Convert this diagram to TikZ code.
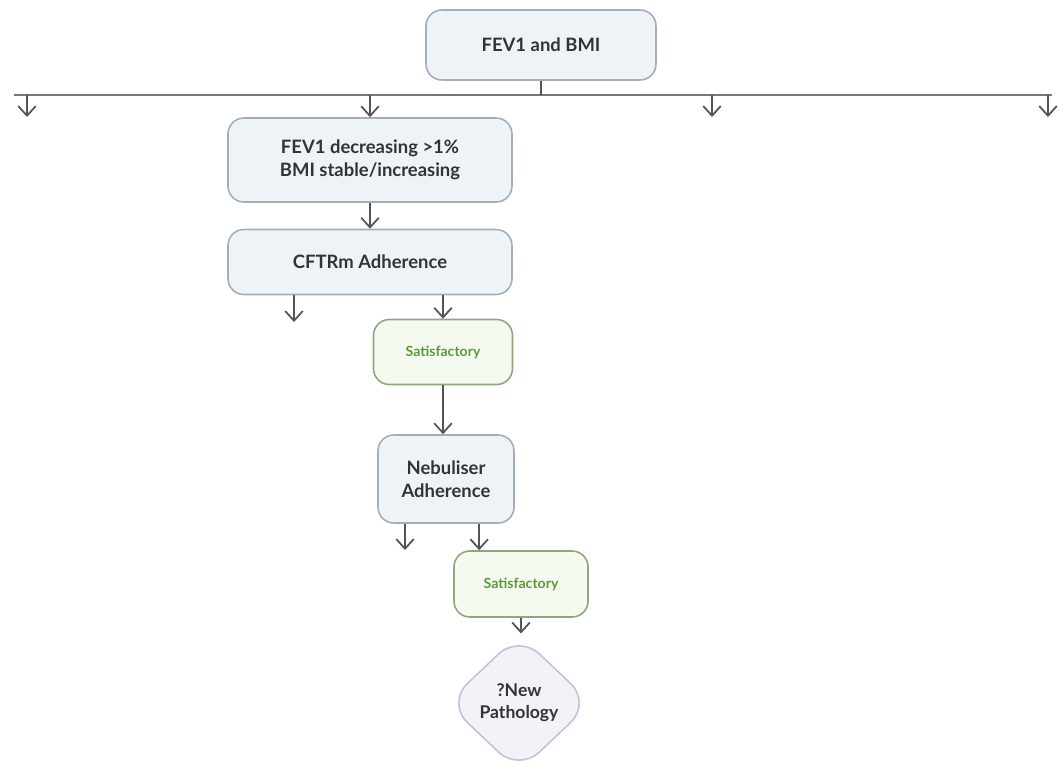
\documentclass[tikz,border=0pt]{standalone}
\usepackage{fontspec}
\setmainfont{Lato}
\usetikzlibrary{arrows.meta,shapes.geometric}
\definecolor{boxfill}{HTML}{EEF3F8}
\definecolor{boxline}{HTML}{A3AEBA}
\definecolor{okfill}{HTML}{F5FAF0}
\definecolor{okline}{HTML}{8FA67F}
\definecolor{oktext}{HTML}{5C9A38}
\definecolor{pathfill}{HTML}{F4F1F8}
\definecolor{pathline}{HTML}{C8C1D3}
\definecolor{wire}{HTML}{555555}

\begin{document}
\begin{tikzpicture}[x=0.02cm, y=-0.02cm,
		box/.style={draw=boxline, fill=boxfill, line width=0.9pt, rounded corners=9pt,
			align=center, text=black!80, font=\fontsize{10.5}{13}\selectfont\bfseries},
		okbox/.style={draw=okline, fill=okfill, line width=0.9pt, rounded corners=9pt,
			text=oktext, font=\fontsize{8}{10}\selectfont\bfseries},
		pathbox/.style={diamond, draw=pathline, fill=pathfill, line width=0.9pt, rounded corners=16pt,
			align=center, inner sep=0pt, text=black!80, font=\fontsize{10}{12.5}\selectfont\bfseries},
		arr/.style={-{Straight Barb[length=5.5pt,width=10pt]}, draw=wire, line width=1pt}]
		%%%%% START %%%%%
		
		\useasboundingbox (0,0) rectangle (1059,772);
		
		\node[box, minimum width=4.6cm, minimum height=1.4cm] (fev) at (541,45) {FEV1 and BMI};
		
		% bar across the top
		\coordinate (barL) at (14,95);
		\coordinate (barR) at (1052,95);
		\draw[wire!80, line width=1.6pt] (barL) -- (barR);
		\draw[wire, line width=0.9pt] (fev.south) -- (fev.south |- barL);
		
		\coordinate (a1) at (27,117);
		\coordinate (a3) at (712,117);
		\coordinate (a4) at (1048,117);
		
		\node[box, minimum width=5.68cm, minimum height=1.68cm] (drop) at (370,160) {FEV1 decreasing >1\%\\BMI stable/increasing};
		\node[box, minimum width=5.68cm, minimum height=1.3cm] (cftr) at (370,262) {CFTRm Adherence};
		\node[okbox, minimum width=2.78cm, minimum height=1.3cm] (sat1) at (443,352) {Satisfactory};
		\node[box, minimum width=2.72cm, minimum height=1.76cm] (neb) at (446,479) {Nebuliser\\Adherence};
		\node[okbox, minimum width=2.68cm, minimum height=1.32cm] (sat2) at (521,584) {Satisfactory};
		\node[pathbox, minimum width=2.9cm, minimum height=2.75cm] (path) at (519,703) {?New\\Pathology};
		
		\draw[arr] (a1 |- barL) -- (a1);
		\draw[arr] (drop.north |- barL) -- (drop.north);
		\draw[arr] (a3 |- barL) -- (a3);
		\draw[arr] (a4 |- barL) -- (a4);
		
		\draw[arr] (drop) -- (cftr);
		
		\coordinate (c1) at (294,322);
		\draw[arr] (cftr.south -| c1) -- (c1);
		\draw[arr] (cftr.south -| sat1.north) -- (sat1.north);
		
		\draw[arr] (sat1.south) -- (sat1.south |- neb.north);
		
		\coordinate (n1) at (405,550);
		\coordinate (s2in) at ([xshift=0.52cm]sat2.north west);
		\draw[arr] (neb.south -| n1) -- (n1);
		\draw[arr] (neb.south -| s2in) -- (s2in);
		
		\draw[arr] (sat2.south) -- (sat2.south |- path.north);
		
		%%%%% END %%%%%
\end{tikzpicture}
\end{document}
